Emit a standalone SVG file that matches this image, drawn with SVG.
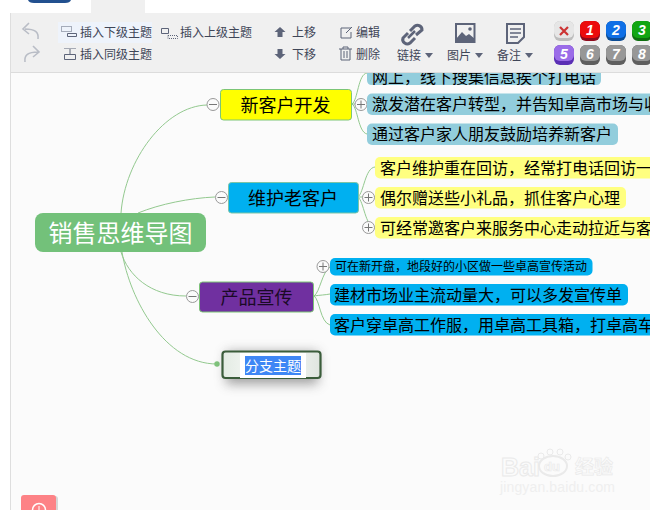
<svg xmlns="http://www.w3.org/2000/svg" width="650" height="510" viewBox="0 0 650 510">
<style>
text{font-family:"Liberation Sans","Noto Sans CJK SC",sans-serif}
.tb{font-size:12px;fill:#3f4658}
.ic{fill:none;stroke:#5d6479;stroke-width:1}
.icf{fill:#5d6479;stroke:none}
.undo{fill:none;stroke:#b9bdc6;stroke-width:1.6}
.t18{font-size:18px;fill:#000;text-anchor:middle}
.t16{font-size:16px;fill:#000}
.conn{fill:none;stroke:#93c98f;stroke-width:1}
.fold{fill:#fbfbfb;stroke:#999;stroke-width:1}
.foldl{stroke:#777;stroke-width:1;fill:none}
.blue{fill:#92cddc}.yel{fill:#ffff80}.sky{fill:#00b0f0}
.bt{font-size:14px;font-weight:bold;font-style:italic;fill:#fff;text-anchor:middle}
.wm{fill:#fbfbfb;stroke:#eaeaea;stroke-width:1;font-weight:bold}
</style>
<defs>
<linearGradient id="br" x1="0" x2="1" y1="0" y2="0"><stop offset="0" stop-color="#e3ebe3"/><stop offset="0.5" stop-color="#fff"/><stop offset="1" stop-color="#dfe5df"/></linearGradient>
<filter id="sh" x="-30%" y="-60%" width="160%" height="220%"><feGaussianBlur stdDeviation="6"/></filter>
<g id="minus"><circle r="6" class="fold"/><path d="M-4,0H4" class="foldl"/></g>
<g id="plus"><circle r="6" class="fold"/><path d="M-4,0H4M0,-4V4" class="foldl"/></g>
</defs>
<rect width="650" height="510" fill="#fff"/>
<rect x="10" y="13" width="640" height="497" fill="#fbfbfb"/>
<rect x="10" y="13" width="1" height="497" fill="#dedede"/>
<g id="connectors">
<path class="conn" d="M121,213C125,160 165,106 207,105"/>
<path class="conn" d="M138,213C160,204 190,198 215,197"/>
<path class="conn" d="M121,252C128,275 150,296 186,296"/>
<path class="conn" d="M122,252C130,300 165,364 217,364"/>
<path class="conn" d="M352,104C358,100 358,74 367,73"/>
<path class="conn" d="M352,104H367"/>
<path class="conn" d="M352,104C358,108 358,132 367,134"/>
<path class="conn" d="M358,197C364,192 365,168 375,167"/>
<path class="conn" d="M358,197H375"/>
<path class="conn" d="M358,197C364,202 365,226 375,228"/>
<path class="conn" d="M314,296C320,292 322,272 330,267"/>
<path class="conn" d="M314,296C320,295 325,295 330,294"/>
<path class="conn" d="M314,296C320,300 320,322 330,325"/>
<circle cx="217" cy="364" r="2.700" fill="#7fc47c"/>
</g>
<g id="root"><rect x="35" y="213" width="171" height="39" rx="8" fill="#73c17a"/><text x="120.500" y="241.500" font-size="24" fill="#fff" text-anchor="middle">销售思维导图</text></g>
<g id="n1"><rect x="220.500" y="89.500" width="131" height="30.500" rx="3" fill="#ff0" stroke="#7cc576"/><text class="t18" x="285.500" y="111.500">新客户开发</text><use href="#minus" x="213" y="104.500"/><use href="#plus" x="361" y="104.500"/></g>
<g id="n2"><rect x="228.500" y="182.500" width="130" height="30.500" rx="3" fill="#00b0f0" stroke="#7cc5a6"/><text class="t18" x="293" y="204.500">维护老客户</text><use href="#minus" x="221.500" y="197.500"/><use href="#plus" x="368.500" y="197.500"/></g>
<g id="n3"><rect x="199.500" y="282" width="114" height="30" rx="3" fill="#7030a0" stroke="#7cc576"/><text class="t18" x="256.500" y="303.500" style="fill:#1a0a26">产品宣传</text><use href="#minus" x="192.500" y="296.500"/></g>
<g id="n4"><rect x="226" y="352" width="92" height="32" fill="#555" opacity="0.55" filter="url(#sh)"/><rect x="222.500" y="351.500" width="98" height="26.500" rx="3" fill="url(#br)" stroke="#3b5d3b" stroke-width="2.200"/><rect x="240" y="353" width="66" height="25" fill="#fff"/><rect x="245" y="356" width="56" height="19" fill="#3f87f5"/><text x="245" y="371" font-size="14" fill="#fff">分支主题</text></g>
<g id="c11"><path class="blue" d="M367,66H601V80Q601,85 596,85H372Q367,85 367,80Z"/><text class="t16" x="372" y="82.500">网上，线下搜集信息挨个打电话</text></g>
<g id="c12"><rect class="blue" x="367" y="93.500" width="290" height="21.500" rx="5"/><text class="t16" x="372" y="110">激发潜在客户转型，并告知卓高市场与收</text></g>
<g id="c13"><rect class="blue" x="367" y="123.500" width="251" height="21.500" rx="5"/><text class="t16" x="372" y="140">通过客户家人朋友鼓励培养新客户</text></g>
<g id="c21"><rect class="yel" x="375" y="157" width="285" height="21.500" rx="5"/><text class="t16" x="380" y="173.500">客户维护重在回访，经常打电话回访一</text></g>
<g id="c22"><rect class="yel" x="375" y="187" width="251" height="21.500" rx="5"/><text class="t16" x="380" y="203.500">偶尔赠送些小礼品，抓住客户心理</text></g>
<g id="c23"><rect class="yel" x="375" y="217" width="285" height="21.500" rx="5"/><text class="t16" x="380" y="233.500">可经常邀客户来服务中心走动拉近与客</text><use href="#plus" x="368.500" y="227.500"/></g>
<g id="c31"><rect class="sky" x="330" y="258" width="262.500" height="17.500" rx="5"/><text x="335" y="271" font-size="12" fill="#000">可在新开盘，地段好的小区做一些卓高宣传活动</text><use href="#plus" x="323" y="266.500"/></g>
<g id="c32"><rect class="sky" x="330" y="284" width="298" height="21.500" rx="5"/><text class="t16" x="334" y="300.500">建材市场业主流动量大，可以多发宣传单</text></g>
<g id="c33"><rect class="sky" x="330" y="314" width="330" height="21.500" rx="5"/><text class="t16" x="334" y="330.500">客户穿卓高工作服，用卓高工具箱，打卓高车</text></g>
<g id="watermark">
<text class="wm" x="501" y="476" font-size="25">Bai</text>
<ellipse cx="553" cy="466" rx="14" ry="10" fill="none" stroke="#eaeaea" stroke-width="2"/>
<text class="wm" x="544" y="471" font-size="13" style="stroke-width:.7">du</text>
<circle cx="541" cy="456" r="3" fill="#fbfbfb" stroke="#eaeaea"/><circle cx="550" cy="452" r="3" fill="#fbfbfb" stroke="#eaeaea"/><circle cx="560" cy="452" r="3" fill="#fbfbfb" stroke="#eaeaea"/><circle cx="568" cy="457" r="3" fill="#fbfbfb" stroke="#eaeaea"/>
<text class="wm" x="575" y="474" font-size="19" style="stroke-width:.7">经验</text>
<text x="500" y="492" font-size="14" fill="#efefef" textLength="115">jingyan.baidu.com</text>
</g>
<g id="corner"><rect x="21" y="495" width="35" height="20" rx="3" fill="#666" opacity="0.25" transform="translate(2 1)"/><rect x="21" y="495" width="35" height="20" rx="3" fill="#fd8286"/><circle cx="39" cy="510" r="6.500" fill="none" stroke="#fff" stroke-width="1.500"/><path d="M39,506V510" stroke="#fff"/></g>
<g id="toolbar">
<rect x="0" y="0" width="650" height="13" fill="#fff"/>
<rect x="91" y="0" width="54" height="13" fill="#f0f0f0"/>
<path d="M28,0H71Q70,3 65,3H34Q29,3 28,0Z" fill="#22508f"/>
<rect x="11" y="13" width="639" height="59" fill="#f0f0f0"/>
<rect x="10" y="13" width="1" height="60" fill="#dedede"/>
<rect x="11" y="72" width="639" height="1" fill="#dcdcdc"/>
<rect x="58" y="22" width="94" height="21" fill="#eef3fb"/>
<path class="undo" d="M38,39C39,32 35,29 25,29M29,23L23,29L29,34"/>
<path class="undo" d="M25,62C24,55 28,52 38,52M33,46L39,52L33,57"/>
<path class="ic" stroke-dasharray="1 1" d="M61.500,26.500H71.500V31.500H61.500Z"/><path class="ic" d="M67.500,33.500H76.500V36.500H67.500Z"/>
<text class="tb" x="80" y="37">插入下级主题</text>
<path class="ic" d="M161.500,28.500H168.500V33.500H161.500Z"/><path class="ic" stroke-dasharray="1 1" d="M168,35.500H177.500V38.500H168Z"/>
<text class="tb" x="180" y="37">插入上级主题</text>
<path class="ic" stroke-dasharray="1 1" d="M64.500,48.500H75.500"/><path class="ic" d="M70,49V54M64.500,54.500H75.500V59.500H64.500Z"/>
<text class="tb" x="80" y="59">插入同级主题</text>
<path class="icf" d="M280,27L285.500,32H282.500V37H277.500V32H274.500Z"/>
<text class="tb" x="292" y="37">上移</text>
<path class="icf" d="M280,59L285.500,54H282.500V49H277.500V54H274.500Z"/>
<text class="tb" x="292" y="59">下移</text>
<path class="ic" d="M351,28H341V38H351V32M346,33L352,27"/>
<text class="tb" x="356" y="37">编辑</text>
<path class="ic" d="M339,49H352M343,49V47H348V49M341,49V60H350V49M344,51V58M347,51V58"/>
<text class="tb" x="356" y="59">删除</text>
<g fill="none" stroke="#5d6479" stroke-width="3"><path d="M416,35L422,30A4.500,4.500 0 0 0 415,26L410,31"/><path d="M408,33L403,38A4.500,4.500 0 0 0 410,43L415,38"/><path d="M408,38L415,31" stroke-width="2.500"/></g>
<text class="tb" x="397" y="60">链接</text><path class="icf" d="M425,53H433L429,58Z"/>
<rect x="456" y="24" width="18.500" height="18" fill="none" stroke="#5d6479" stroke-width="2"/><path class="icf" d="M456,43V39L462,32L466,36L469,34L475,39V43Z"/><circle class="icf" cx="470" cy="29" r="1.800"/>
<text class="tb" x="447" y="60">图片</text><path class="icf" d="M475,53H483L479,58Z"/>
<path d="M507,24H524V37L518,43H507Z" fill="none" stroke="#5d6479" stroke-width="2"/><path d="M510,29H521M510,33H521M510,37H518" stroke="#5d6479" stroke-width="1.500"/>
<text class="tb" x="497" y="60">备注</text><path class="icf" d="M525,53H533L529,58Z"/>
<g id="badges">
<rect x="554" y="21" width="20" height="20" rx="6" fill="#bdbdbd"/><rect x="554" y="21" width="20" height="17" rx="6" fill="#e6e6e6"/><path d="M560,27L568,35M568,27L560,35" stroke="#c33" stroke-width="2.200"/>
<rect x="580" y="21" width="20" height="20" rx="6" fill="#8e0b1c"/><rect x="580" y="21" width="20" height="17" rx="6" fill="#ec0c0c"/><text class="bt" x="590" y="35">1</text>
<rect x="606" y="21" width="20" height="20" rx="6" fill="#0b4c95"/><rect x="606" y="21" width="20" height="17" rx="6" fill="#0f6fe6"/><text class="bt" x="616" y="35">2</text>
<rect x="632" y="21" width="20" height="20" rx="6" fill="#0e6e0e"/><rect x="632" y="21" width="20" height="17" rx="6" fill="#12a512"/><text class="bt" x="642" y="35">3</text>
<rect x="554" y="45" width="20" height="20" rx="6" fill="#5b2fb5"/><rect x="554" y="45" width="20" height="16" rx="6" fill="#9b6ce8"/><text class="bt" x="564" y="59">5</text>
<rect x="580" y="45" width="20" height="20" rx="6" fill="#5e5e5e"/><rect x="580" y="45" width="20" height="16" rx="6" fill="#979797"/><text class="bt" x="590" y="59">6</text>
<rect x="606" y="45" width="20" height="20" rx="6" fill="#5e5e5e"/><rect x="606" y="45" width="20" height="16" rx="6" fill="#979797"/><text class="bt" x="616" y="59">7</text>
<rect x="632" y="45" width="20" height="20" rx="6" fill="#5e5e5e"/><rect x="632" y="45" width="20" height="16" rx="6" fill="#979797"/><text class="bt" x="642" y="59">8</text>
</g>
</g>
</svg>
